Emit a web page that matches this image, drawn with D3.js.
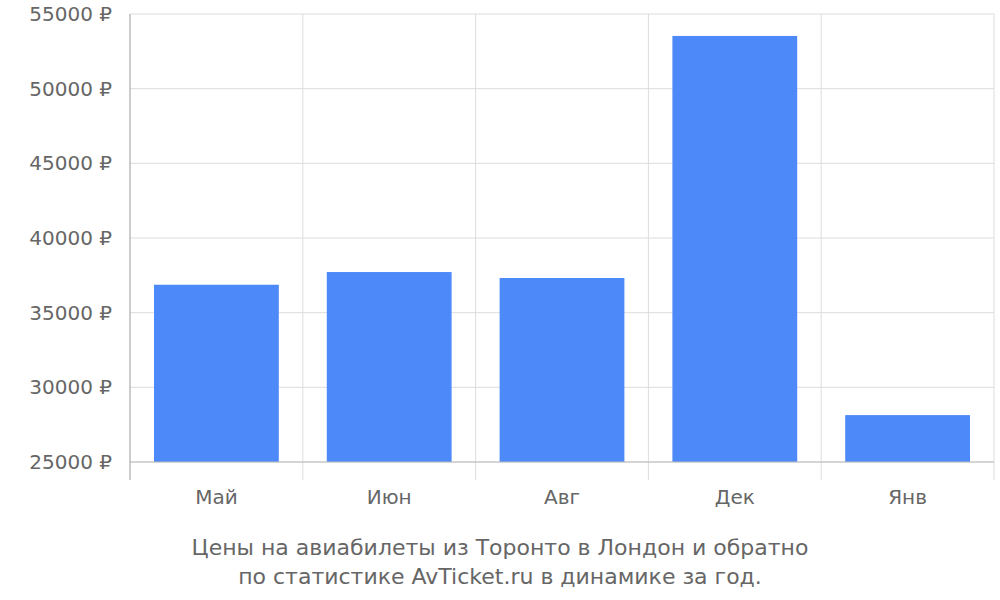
<!DOCTYPE html>
<html><head><meta charset="utf-8">
<script src="https://cdn.jsdelivr.net/npm/d3@7"></script>
<style>body{margin:0;background:#fff}</style>
</head><body><svg></svg>
<script>
const months = ["Май", "Июн", "Авг", "Дек", "Янв"]
const prices = [36870, 37720, 37320, 53530, 28140]
const yTicks = [25000, 30000, 35000, 40000, 45000, 50000, 55000]
const titleLines = ["Цены на авиабилеты из Торонто в Лондон и обратно", "по статистике AvTicket.ru в динамике за год."]

const w = 1000, h = 600
const mLeft = 130, mRight = 994, mTop = 14, mBottom = 462
const svg = d3.select("svg").attr("width", w).attr("height", h)
  .style("font-family", "DejaVu Sans, sans-serif")

const x = d3.scaleBand().domain(months).range([mLeft, mRight]).paddingInner(0).paddingOuter(0)
const y = d3.scaleLinear().domain([25000, 55000]).range([mBottom, mTop])

// grid
svg.append("g").selectAll("line").data(yTicks).join("line")
  .attr("x1", mLeft).attr("x2", mRight).attr("y1", d => y(d)).attr("y2", d => y(d))
  .attr("stroke", "#ddd")
const vlines = months.map(m => x(m)).concat([mRight])
svg.append("g").selectAll("line").data(vlines).join("line")
  .attr("x1", d => d).attr("x2", d => d).attr("y1", mTop).attr("y2", 480)
  .attr("stroke", (d, i) => i === 0 ? "#999" : "#ddd")

// bars
const pad = 24
svg.append("g").selectAll("rect").data(prices).join("rect")
  .attr("x", (d, i) => x(months[i]) + pad)
  .attr("width", x.bandwidth() - 2 * pad)
  .attr("y", d => y(d))
  .attr("height", d => mBottom - y(d))
  .attr("fill", "#4d89f9")

svg.append("line").attr("x1", mLeft).attr("x2", mRight).attr("y1", mBottom).attr("y2", mBottom).attr("stroke", "#bbb")

// labels
svg.append("g").selectAll("text").data(yTicks).join("text")
  .attr("x", 112).attr("y", d => y(d) + 7).attr("text-anchor", "end")
  .attr("fill", "#666").attr("font-size", 20).text(d => d + " ₽")
svg.append("g").selectAll("text").data(months).join("text")
  .attr("x", d => x(d) + x.bandwidth() / 2).attr("y", 504).attr("text-anchor", "middle")
  .attr("fill", "#666").attr("font-size", 20).text(d => d)
svg.append("g").selectAll("text").data(titleLines).join("text")
  .attr("x", 500).attr("y", (d, i) => 555 + i * 29).attr("text-anchor", "middle")
  .attr("fill", "#666").attr("font-size", 22).text(d => d)
</script></body></html>
